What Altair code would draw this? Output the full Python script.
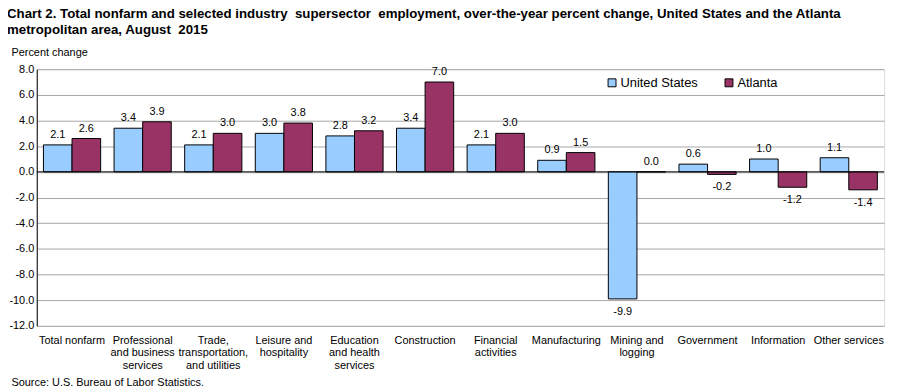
import altair as alt
import pandas as pd

categories = [
    "Total nonfarm",
    "Professional\nand business\nservices",
    "Trade,\ntransportation,\nand utilities",
    "Leisure and\nhospitality",
    "Education\nand health\nservices",
    "Construction",
    "Financial\nactivities",
    "Manufacturing",
    "Mining and\nlogging",
    "Government",
    "Information",
    "Other services",
]
us_values = [2.1, 3.4, 2.1, 3.0, 2.8, 3.4, 2.1, 0.9, -9.9, 0.6, 1.0, 1.1]
atlanta_values = [2.6, 3.9, 3.0, 3.8, 3.2, 7.0, 3.0, 1.5, 0.0, -0.2, -1.2, -1.4]
series = ["United States", "Atlanta"]
colors = ["#99CCFF", "#993366"]
y_ticks = [-12, -10, -8, -6, -4, -2, 0, 2, 4, 6, 8]

rows = []
for i, c in enumerate(categories):
    for s, vals in zip(series, [us_values, atlanta_values]):
        v = vals[i]
        rows.append({"category": c, "series": s, "value": v, "label": f"{v:.1f}"})
df = pd.DataFrame(rows)

FONT = "Liberation Sans"
W, H = 855, 259

x_scale = alt.Scale(paddingInner=0.19, paddingOuter=0.095)
y_scale = alt.Scale(domain=[-12, 8], nice=False, zero=False)

x_axis = alt.Axis(
    title="Source: U.S. Bureau of Labor Statistics.",
    titleX=-26,
    titleY=57,
    titleAlign="left",
    titleBaseline="middle",
    titleFontWeight="normal",
    titleFontSize=11,
    labelAngle=0,
    labelExpr="split(datum.label, '\\n')",
    ticks=False,
    domain=False,
    labelPadding=9,
    labelLineHeight=12.3,
    labelFontSize=11,
    labelBaseline="top",
    labelLimit=0,
    labelOverlap=False,
)
y_axis = alt.Axis(
    title="Percent change",
    titleAngle=0,
    titleX=-26,
    titleY=-17,
    titleAlign="left",
    titleBaseline="middle",
    titleFontWeight="normal",
    titleFontSize=11,
    values=y_ticks,
    labelExpr="datum.value < 0 ? '-' + format(-datum.value, '.1f') : format(datum.value, '.1f')",
    labelOverlap=False,
    grid=True,
    gridColor="#A6A6A6",
    gridWidth=1,
    domainColor="black",
    ticks=False,
    labelPadding=3,
    labelFontSize=11,
)

x_enc = alt.X("category:N", sort=categories, scale=x_scale, axis=x_axis)
y_enc = alt.Y("value:Q", scale=y_scale, axis=y_axis)
xoff = alt.XOffset("series:N", sort=series, scale=alt.Scale(paddingInner=0, domain=series))

base = alt.Chart(df)

bars = base.mark_bar(stroke="black", strokeWidth=1).encode(
    x=x_enc,
    xOffset=xoff,
    y=y_enc,
    color=alt.Color(
        "series:N",
        sort=series,
        scale=alt.Scale(domain=series, range=colors),
        legend=alt.Legend(
            title=None,
            orient="none",
            legendX=574,
            legendY=7,
            direction="horizontal",
            symbolType="square",
            symbolSize=64,
            symbolStrokeColor="black",
            symbolStrokeWidth=1,
            labelFontSize=13,
            labelFont=FONT,
            labelOffset=2,
            columnPadding=24,
        ),
    ),
)

pos_text = base.transform_filter("datum.value >= 0").mark_text(
    baseline="bottom", dy=-5, fontSize=11, font=FONT, color="black"
).encode(x=x_enc, xOffset=xoff, y=y_enc, text="label:N")

neg_text = base.transform_filter("datum.value < 0").mark_text(
    baseline="top", dy=7, fontSize=11, font=FONT, color="black"
).encode(x=x_enc, xOffset=xoff, y=y_enc, text="label:N")

zero = alt.Chart(pd.DataFrame({"value": [0]})).mark_rule(color="black", strokeWidth=1).encode(y=y_enc)

chart = (
    alt.layer(bars, zero, pos_text, neg_text)
    .properties(
        width=W,
        height=H,
        padding={"left": 29, "top": 60, "right": 9, "bottom": 65},
        autosize=alt.AutoSizeParams(type="none"),
        title=alt.TitleParams(
            [
                "Chart 2. Total nonfarm and selected industry \u00a0supersector \u00a0employment, over-the-year percent change, United States and the Atlanta",
                "metropolitan area, August \u00a02015",
            ],
            anchor="start",
            frame="group",
            dx=-30,
            fontSize=13.4,
            fontWeight="bold",
            font=FONT,
            offset=10,
            lineHeight=16,
            limit=0,
            color="black",
        ),
    )
    .configure_view(stroke="#A6A6A6", strokeWidth=1)
    .configure_axis(labelColor="black", titleColor="black", labelFont=FONT, titleFont=FONT)
    .configure(background="white")
)

chart.save("out.html", embed_options={"renderer": "svg", "actions": False})
